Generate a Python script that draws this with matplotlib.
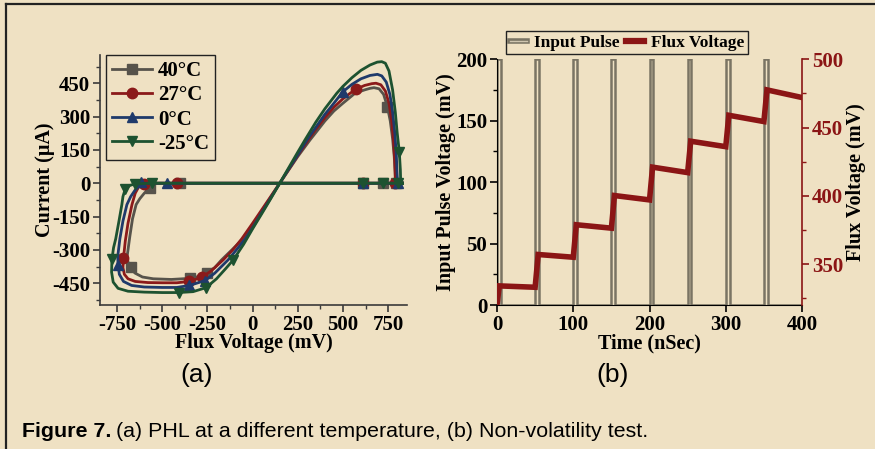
import matplotlib
matplotlib.use("Agg")
import matplotlib.pyplot as plt
from matplotlib.lines import Line2D
from matplotlib.ticker import MultipleLocator
import matplotlib.patheffects as pe

plt.rcParams['font.family'] = ['Liberation Serif', 'DejaVu Serif']
plt.rcParams['font.weight'] = 'bold'
plt.rcParams['axes.labelweight'] = 'bold'
plt.rcParams['axes.unicode_minus'] = False

BG = '#efe1c3'

# ---- (a) hysteresis loops at four temperatures (flux mV vs current uA) ----
temps = ['40°C', '27°C', '0°C', '-25°C']

x_40 = [830, 721, 611, -401, -540, -570, -600, -625, -645, -665, -680, -690, -695, -688,
        -675, -650, -610, -550, -450, -346, -300, -253, -210, -172, -115, -60, 0, 50, 100,
        150, 200, 250, 318, 350, 400, 450, 500, 567, 620, 650, 672, 700, 725, 746, 762, 775,
        784, 789, 791, 830]
y_40 = [0, 0, 0, 0, 0, -22, -45, -70, -96, -160, -240, -300, -330, -365,
        -385, -405, -422, -430, -433, -428, -420, -402, -380, -345, -300, -256, -190, -128, -63,
        0, 60, 120, 195, 228, 280, 325, 360, 405, 420, 427, 430, 425, 400, 345, 280, 200,
        120, 50, 0, 0]

x_27 = [830, 786, 611, -420, -560, -604, -630, -650, -668, -690, -705, -715, -718, -710,
        -690, -650, -580, -500, -420, -350, -282, -230, -163, -110, -60, 0, 50, 100,
        150, 200, 250, 308, 350, 400, 450, 500, 540, 571, 620, 660, 683, 710, 735, 755, 770,
        780, 787, 790, 796, 830]
y_27 = [0, 0, 0, 0, 0, -2, -15, -45, -96, -180, -260, -337, -380, -410,
        -430, -442, -447, -448, -448, -442, -423, -395, -345, -300, -250, -180, -120, -60,
        0, 62, 125, 195, 243, 295, 342, 380, 405, 423, 440, 448, 450, 443, 415, 360, 280,
        190, 100, 30, 0, 0]

x_0 = [830, 804, 611, -475, -590, -619, -650, -675, -696, -718, -735, -747, -745, -738,
       -715, -670, -600, -500, -420, -350, -263, -210, -136, -90, -40, 0, 50, 100,
       150, 200, 250, 301, 350, 400, 450, 500, 550, 600, 650, 691, 715, 740, 760, 775,
       788, 796, 800, 803, 830]
y_0 = [0, 0, 0, 0, 0, -5, -30, -60, -96, -170, -250, -330, -367, -410,
       -442, -460, -467, -469, -469, -460, -438, -405, -345, -300, -250, -200, -133, -67,
       0, 65, 128, 195, 252, 310, 360, 412, 445, 470, 485, 490, 483, 455, 400, 320,
       220, 120, 40, 0, 0]

x_m25 = [830, 804, 721, 611, -558, -620, -650, -680, -705, -718, -724, -740, -758, -770,
         -779, -781, -772, -745, -690, -600, -500, -410, -330, -258, -200, -150, -107, -50,
         0, 50, 100, 150, 200, 250, 290, 350, 400, 466, 500, 550, 600, 650, 690, 715, 735,
         755, 775, 790, 800, 812, 818, 820, 830]
y_m25 = [0, 0, 0, 0, 0, -2, -3, -10, -25, -60, -96, -170, -250, -290,
         -342, -400, -445, -473, -486, -490, -492, -492, -488, -470, -430, -385, -345, -275,
         -205, -138, -70, 0, 70, 140, 195, 275, 335, 405, 436, 475, 508, 532, 545, 547, 540,
         505, 420, 320, 230, 142, 60, 0, 0]

# marker positions along each loop
mx_40 = [746, 721, 611, 795, -401, -570, -672, -346, -253]
my_40 = [345, 0, 0, 0, 0, -22, -375, -428, -402]
mx_27 = [571, 786, 611, -420, -604, -715, -350, -282]
my_27 = [423, 0, 0, 0, -2, -337, -442, -423]
mx_0 = [500, 611, 804, -475, -619, -745, -350, -263]
my_0 = [412, 0, 0, 0, 5, -367, -460, -438]
mx_m25 = [812, 721, 804, 611, -558, -650, -705, -779, -410, -258, -107]
my_m25 = [142, 0, 0, 0, 0, -3, -25, -342, -492, -470, -345]

# ---- (b) non-volatility test ----
pulse_ns = [0, 0, 5, 5, 50, 50, 55, 55, 100, 100, 105, 105, 150, 150, 155, 155,
            200, 200, 205, 205, 250, 250, 255, 255, 300, 300, 305, 305, 350, 350, 355, 355, 400]
pulse_mv = [0, 200, 200, 0, 0, 200, 200, 0, 0, 200, 200, 0, 0, 200, 200, 0,
            0, 200, 200, 0, 0, 200, 200, 0, 0, 200, 200, 0, 0, 200, 200, 0, 0]

flux_ns = [0, 3, 50, 54, 100, 104, 150, 154, 200, 204, 250, 254, 300, 304, 350, 354, 400]
flux_mv = [320, 334, 333, 357, 355, 378.8, 376.3, 400.2, 397, 421, 417, 440, 436, 459,
           454.4, 477.6, 472]

fig = plt.figure(figsize=(8.75, 4.49), dpi=100, facecolor=BG)

# ---------------- panel (a) ----------------
ax = fig.add_axes([0.1143, 0.3207, 0.3509, 0.5568], facecolor=BG)
colors = ['#57534b', '#8b1a1a', '#1f3a6b', '#1d5230']
markers = ['s', 'o', '^', 'v']
loops = [(x_40, y_40, mx_40, my_40), (x_27, y_27, mx_27, my_27),
         (x_0, y_0, mx_0, my_0), (x_m25, y_m25, mx_m25, my_m25)]
handles = []
for (lx, ly, mx, my), c, m, lab in zip(loops, colors, markers, temps):
    ax.plot(lx, ly, color=c, lw=2.0, solid_joinstyle='round')
    ax.plot(mx, my, ls='none', marker=m, ms=7.5, color=c)
    handles.append(Line2D([], [], color=c, lw=2.0, marker=m, ms=7.5, label=lab))

ax.set_xlim(-845, 855)
ax.set_ylim(-548, 577)
ax.xaxis.set_minor_locator(MultipleLocator(125))
ax.yaxis.set_minor_locator(MultipleLocator(75))
ax.set_xticks([-750, -500, -250, 0, 250, 500, 750])
ax.set_yticks([-450, -300, -150, 0, 150, 300, 450])
for s in ['top', 'right']:
    ax.spines[s].set_visible(False)
for s in ['left', 'bottom']:
    ax.spines[s].set_color('#3a3a3a')
    ax.spines[s].set_linewidth(1.2)
ax.tick_params(which='major', length=5, width=1.2, labelsize=15, pad=2, color='#3a3a3a')
ax.tick_params(which='minor', length=3, width=1.0, color='#3a3a3a')
ax.set_xlabel('Flux Voltage (mV)', fontsize=14.5, labelpad=-1)
ax.set_ylabel('Current (μA)', fontsize=14.5, labelpad=-2)
leg = ax.legend(handles=handles, loc='upper left', bbox_to_anchor=(0.02, 1.0),
                borderaxespad=0, fontsize=15, handlelength=1.9, labelspacing=0.2,
                handletextpad=0.3, borderpad=0.3, fancybox=False, framealpha=1,
                facecolor=BG, edgecolor='#222222')
leg.get_frame().set_linewidth(1.0)

# ---------------- panel (b) ----------------
bx = fig.add_axes([0.568, 0.3207, 0.3486, 0.5472], facecolor=BG)
gray = '#7a7464'
bx.plot(pulse_ns, pulse_mv, color=gray, lw=1.8, solid_joinstyle='miter')
bx.set_xlim(0, 400)
bx.set_ylim(0, 200)
bx.xaxis.set_major_locator(MultipleLocator(100))
bx.yaxis.set_major_locator(MultipleLocator(50))
bx.yaxis.set_minor_locator(MultipleLocator(25))
bx.spines['top'].set_visible(False)
bx.spines['right'].set_visible(False)
bx.tick_params(which='major', length=5, width=1.2, labelsize=15, pad=2)
bx.tick_params(which='minor', length=3, width=1.0)
bx.set_xlabel('Time (nSec)', fontsize=14.5, labelpad=-1)
bx.set_ylabel('Input Pulse Voltage (mV)', fontsize=14.5, labelpad=0)

dark_red = '#8b1515'
rx = bx.twinx()
rx.plot(flux_ns, flux_mv, color=dark_red, lw=4.0, solid_joinstyle='miter')
rx.set_ylim(320, 500)
rx.yaxis.set_major_locator(MultipleLocator(50))
rx.yaxis.set_minor_locator(MultipleLocator(25))
rx.spines['top'].set_visible(False)
rx.spines['left'].set_visible(False)
rx.spines['bottom'].set_visible(False)
rx.spines['right'].set_color(dark_red)
rx.spines['right'].set_linewidth(1.2)
rx.tick_params(which='major', length=5, width=1.2, labelsize=15, pad=2,
               color=dark_red, labelcolor=dark_red)
rx.tick_params(which='minor', length=3, width=1.0, color=dark_red)
rx.set_ylabel('Flux Voltage (mV)', fontsize=14.5, labelpad=2)

pulse_handle = Line2D([], [], color='#cfc6b0', lw=1.0,
                      path_effects=[pe.Stroke(linewidth=4, foreground=gray), pe.Normal()])
flux_handle = Line2D([], [], color=dark_red, lw=4.5)
leg2 = bx.legend([pulse_handle, flux_handle], ['Input Pulse', 'Flux Voltage'],
                 loc='upper left', bbox_to_anchor=(0.03, 1.115), borderaxespad=0,
                 ncol=2, fontsize=12.5, handlelength=1.0, handletextpad=0.4,
                 columnspacing=0.4, borderpad=0.2, fancybox=False, framealpha=1,
                 facecolor=BG, edgecolor='#222222')
leg2.get_frame().set_linewidth(1.0)

# sub-figure tags and caption
tag_font = ['Liberation Sans Narrow', 'Liberation Sans', 'DejaVu Sans']
fig.text(0.225, 0.165, '(a)', fontsize=19, family=tag_font, weight='normal',
         ha='center', va='center')
fig.text(0.700, 0.165, '(b)', fontsize=19, family=tag_font, weight='normal',
         ha='center', va='center')
cap_font = ['Liberation Sans', 'DejaVu Sans']
t1 = fig.text(0.025, 0.026, 'Figure 7.', fontsize=15.4, family=cap_font, weight='bold',
              ha='left', va='baseline')
fig.canvas.draw()
bb = t1.get_window_extent()
fig.text(bb.x1 / fig.bbox.width + 0.005, 0.026,
         '(a) PHL at a different temperature, (b) Non-volatility test.',
         fontsize=15.4, family=tag_font, weight='normal', ha='left', va='baseline')

# frame lines along the top and left edges
fig.add_artist(Line2D([0.0066, 1.0], [0.991, 0.991], color='#222222', lw=1.6,
                      transform=fig.transFigure))
fig.add_artist(Line2D([0.0072, 0.0072], [0.0, 0.991], color='#222222', lw=1.6,
                      transform=fig.transFigure))

fig.savefig('out.png', dpi=100, facecolor=BG)
